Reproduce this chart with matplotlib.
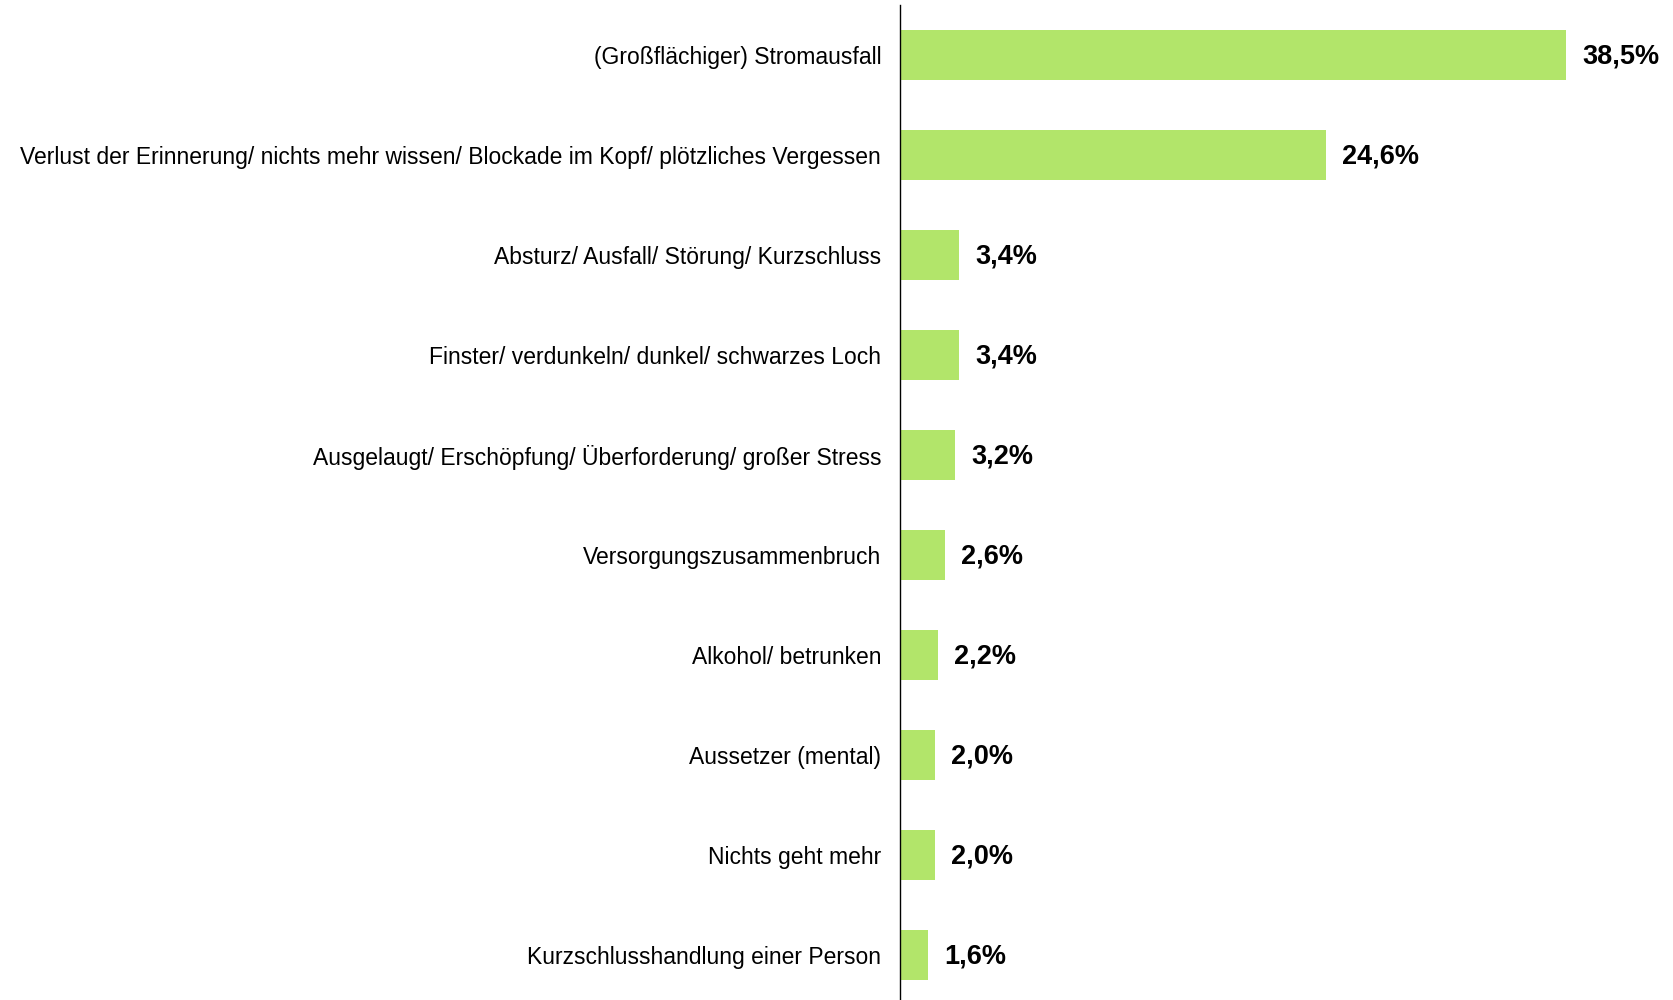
import matplotlib.pyplot as plt

categories = [
    "(Großflächiger) Stromausfall",
    "Verlust der Erinnerung/ nichts mehr wissen/ Blockade im Kopf/ plötzliches Vergessen",
    "Absturz/ Ausfall/ Störung/ Kurzschluss",
    "Finster/ verdunkeln/ dunkel/ schwarzes Loch",
    "Ausgelaugt/ Erschöpfung/ Überforderung/ großer Stress",
    "Versorgungszusammenbruch",
    "Alkohol/ betrunken",
    "Aussetzer (mental)",
    "Nichts geht mehr",
    "Kurzschlusshandlung einer Person",
]
values = [38.5, 24.6, 3.4, 3.4, 3.2, 2.6, 2.2, 2.0, 2.0, 1.6]
value_labels = ["38,5%", "24,6%", "3,4%", "3,4%", "3,2%", "2,6%", "2,2%", "2,0%", "2,0%", "1,6%"]

plt.rcParams["font.family"] = ["Liberation Sans", "DejaVu Sans"]

fig = plt.figure(figsize=(16.74, 10), dpi=100)
ax = fig.add_axes([900 / 1674, 0.0, 1 - 900 / 1674, 0.995])

pos = list(range(len(categories)))
ax.barh(pos, values, height=0.5, color="#b2e56a")
ax.set_ylim(9.45, -0.5)
ax.set_xlim(0, (1674 - 900) / 17.3)

for p, v, lab in zip(pos, values, value_labels):
    ax.text(v + 0.95, p + 0.02, lab, va="center", ha="left", fontsize=19.5, fontweight="bold")

ax.set_yticks(pos)
ax.set_yticklabels(categories, fontsize=16.5)
ax.tick_params(axis="y", length=0, pad=13.5)
ax.set_xticks([])
for side in ["top", "right", "bottom"]:
    ax.spines[side].set_visible(False)
ax.spines["left"].set_linewidth(1.0)

fig.savefig("out.png", dpi=100)
